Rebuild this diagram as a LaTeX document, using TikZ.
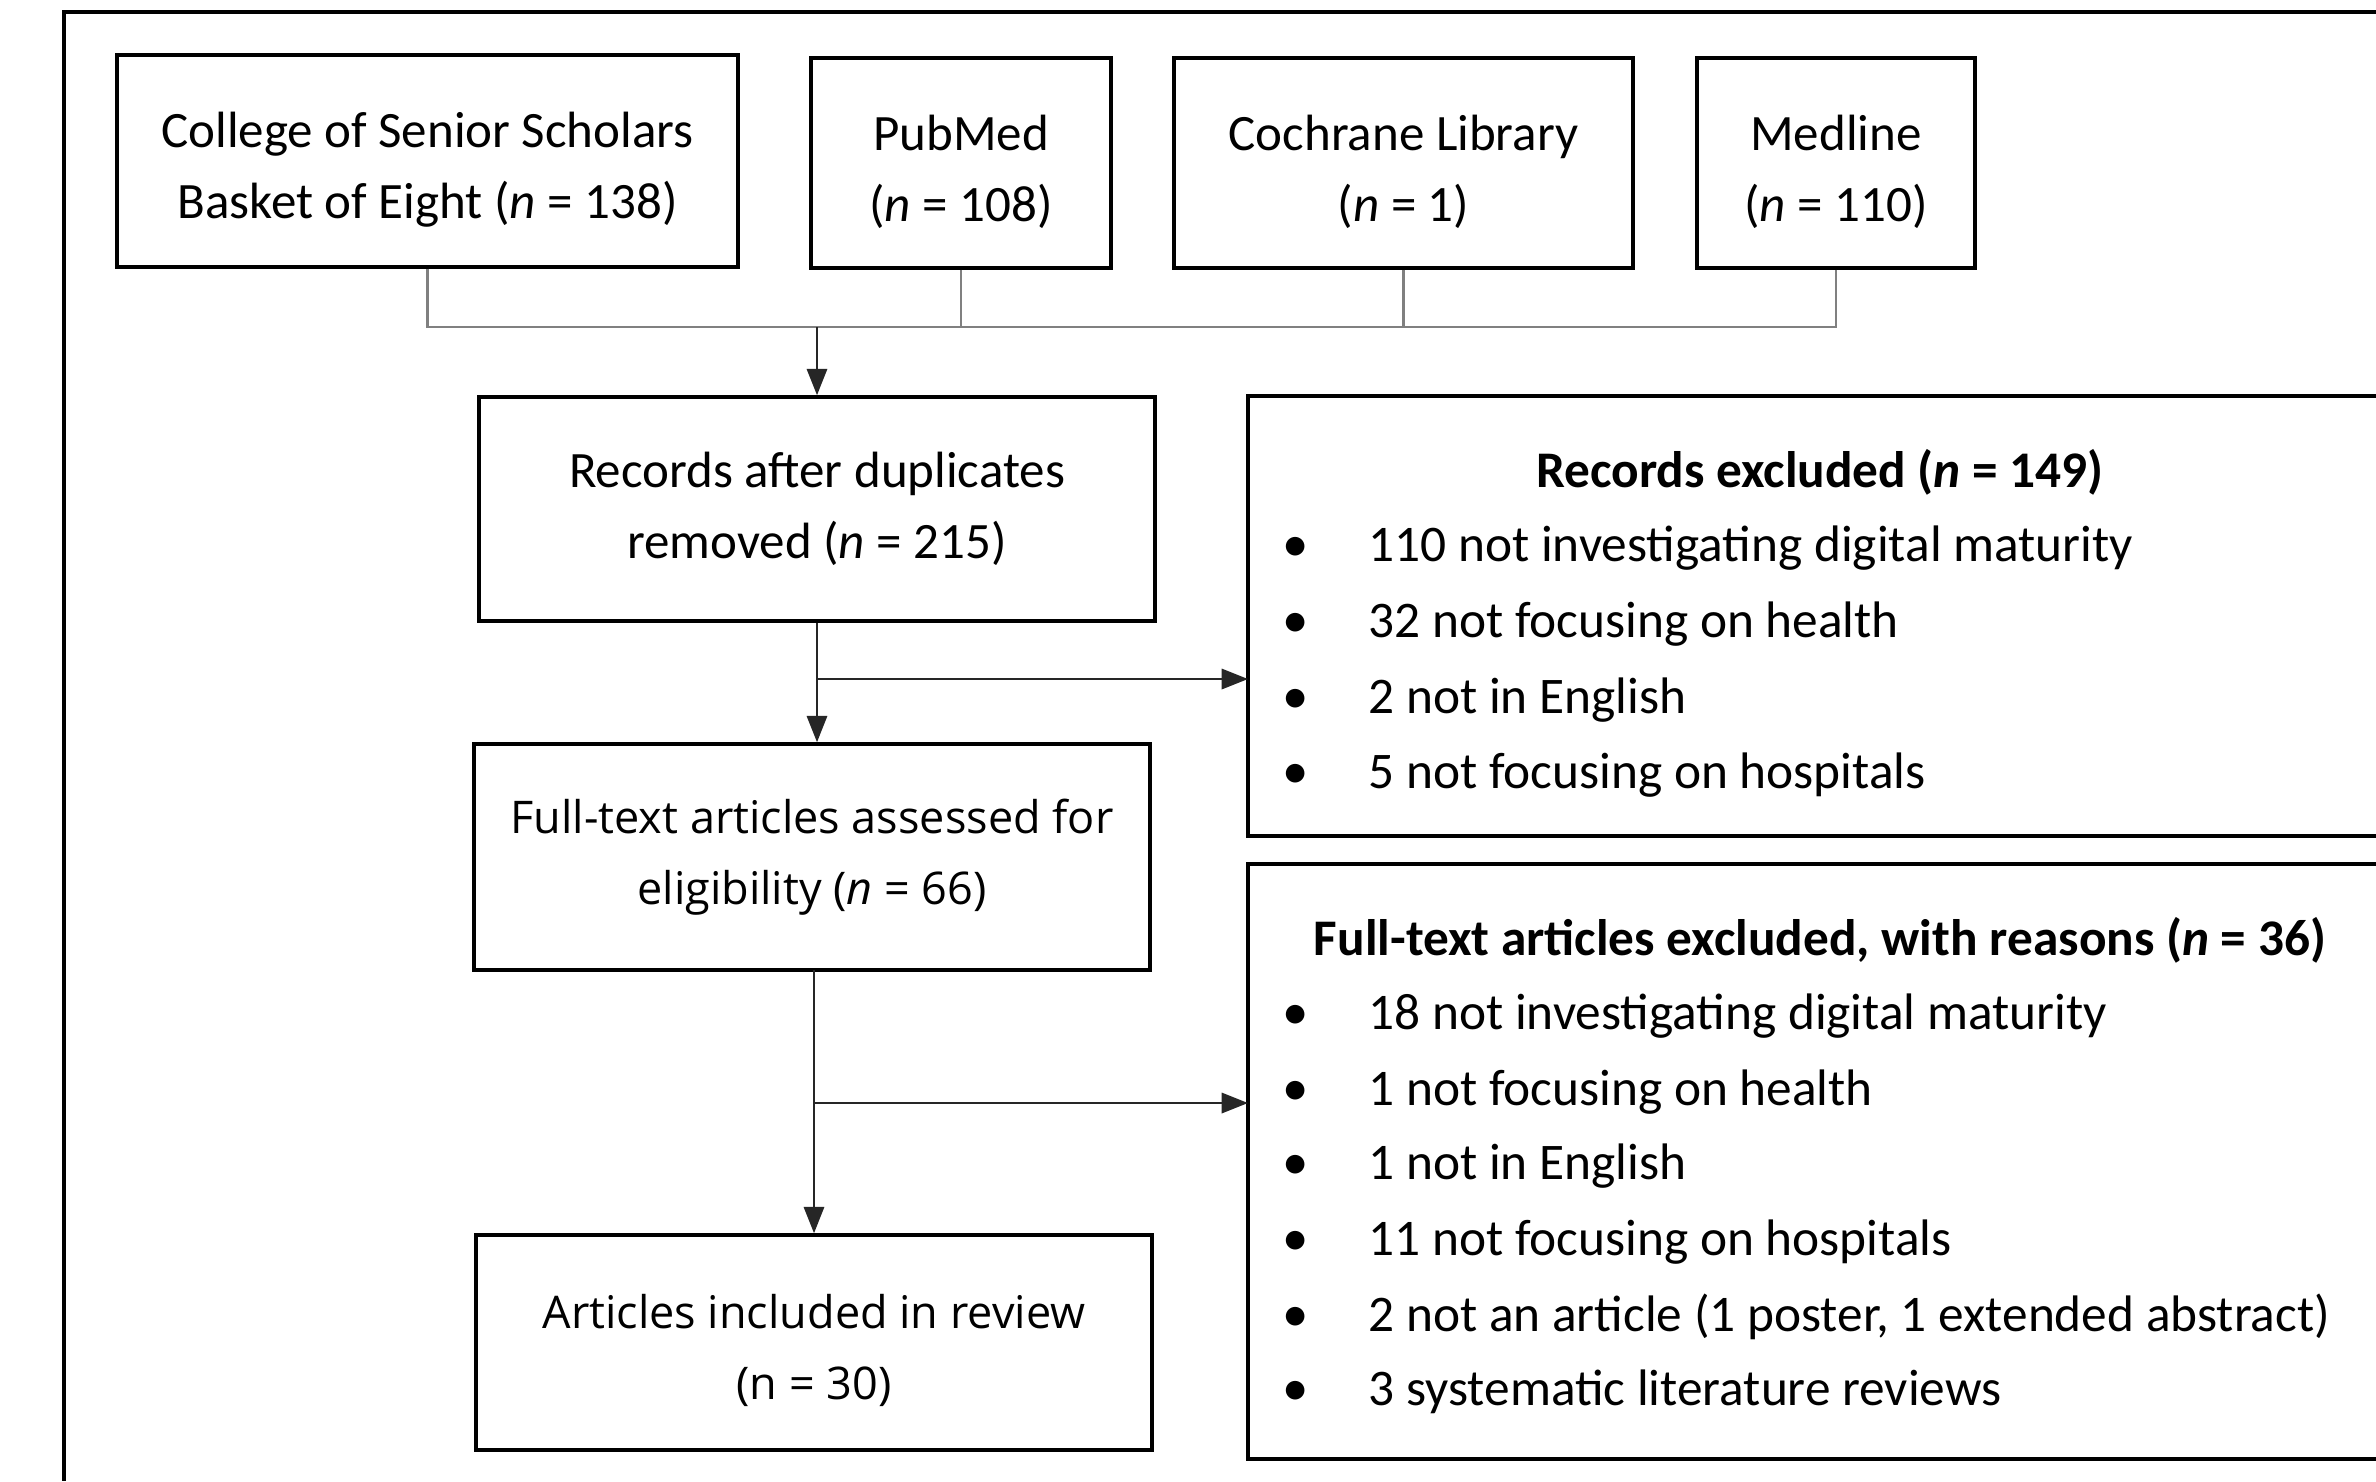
\documentclass[tikz,border=0pt]{standalone}
\usepackage{fontspec}
\setmainfont{Carlito}
\newfontfamily\segoe{Open Sans}
\usetikzlibrary{arrows.meta}
\newcommand{\lowerstrut}[1]{\rule{0pt}{#1}}
\begin{document}
\begin{tikzpicture}[x=0.01cm,y=-0.01cm,
  box/.style={draw, line width=1pt, rectangle, align=center, inner sep=0pt,
    font=\fontsize{14.5}{20.2}\selectfont},
  segbox/.style={box, font=\segoe\fontsize{12.8}{20.2}\selectfont},
  openbox/.style={rectangle, inner sep=0pt, draw=none},
  title/.style={anchor=base, inner sep=0pt, font=\bfseries\fontsize{14.6}{15}\selectfont},
  item/.style={anchor=base west, inner sep=0pt, font=\fontsize{14.6}{15}\selectfont},
  bul/.style={anchor=base, inner sep=0pt, font=\fontsize{15}{15}\selectfont},
  merge/.style={draw=black!50, line width=0.6pt},
  arr/.style={draw=black!85, line width=0.6pt, -{Triangle[length=7.5pt,width=5.8pt]}},
  frame/.style={line width=1.1pt}]
\useasboundingbox (0,0) rectangle (2376,1481);
\fill[white] (0,0) rectangle (2376,1481);
% outer frame (cropped)
\coordinate (ftl) at (64,12);
\coordinate (ftr) at (2376,12);
\coordinate (fbl) at (64,1481);
\draw[frame] (ftr) -- (ftl) -- (fbl);

% source boxes
\node[box, minimum width=6.21cm, minimum height=2.12cm] (css) at (427.5,161)
  {\lowerstrut{15pt}College of Senior Scholars\\Basket of Eight (\textit{n} = 138)};
\node[box, minimum width=3.00cm, minimum height=2.10cm] (pub) at (961,163)
  {\lowerstrut{15pt}PubMed\\(\textit{n} = 108)};
\node[box, minimum width=4.59cm, minimum height=2.10cm] (coc) at (1403.5,163)
  {\lowerstrut{15pt}Cochrane Library\\(\textit{n} = 1)};
\node[box, minimum width=2.78cm, minimum height=2.10cm] (med) at (1836,163)
  {\lowerstrut{15pt}Medline\\(\textit{n} = 110)};

% main column
\node[box, minimum width=6.76cm, minimum height=2.24cm] (rec) at (817,509)
  {Records after duplicates\\removed (\textit{n} = 215)};
\node[segbox, minimum width=6.76cm, minimum height=2.26cm] (ft) at (812,857)
  {Full-text articles assessed for\\eligibility (\textit{n} = 66)};
\node[segbox, minimum width=6.76cm, minimum height=2.15cm] (art) at (814,1342.5)
  {\lowerstrut{14pt}Articles included in review\\(n = 30)};

% exclusion boxes (cropped at right edge)
\node[openbox, minimum width=11.27cm, minimum height=4.38cm] (rex) at (1812.5,616) {};
\draw[line width=1pt] (rex.north east) -- (rex.north west) -- (rex.south west) -- (rex.south east);
\node[openbox, minimum width=11.27cm, minimum height=5.93cm] (fex) at (1812.5,1161.5) {};
\draw[line width=1pt] (fex.north east) -- (fex.north west) -- (fex.south west) -- (fex.south east);

\node[title] (rext) at (1820,487) {Records excluded (\textit{n} = 149)};
\foreach \y/\t [count=\i] in {561/110 not investigating digital maturity,
    637/32 not focusing on health, 713/2 not in English, 788/5 not focusing on hospitals}{
  \node[bul] (rb\i) at (1296,\y) {•};
  \node[item] (ri\i) at (1368,\y) {\t};
}
\node[title] (fext) at (1820,955) {Full-text articles excluded, with reasons (\textit{n} = 36)};
\foreach \y/\t [count=\i] in {1029/18 not investigating digital maturity,
    1105/1 not focusing on health, 1179/1 not in English, 1255/11 not focusing on hospitals,
    1331/{2 not an article (1 poster, 1 extended abstract)}, 1405/3 systematic literature reviews}{
  \node[bul] (fb\i) at (1296,\y) {•};
  \node[item] (fi\i) at (1368,\y) {\t};
}

% merge connectors
\coordinate (mj) at (rec.north |- 0,327);
\draw[merge] (css.south) |- (mj);
\draw[merge] (med.south) |- (mj);
\draw[merge] (pub.south) -- (pub.south |- mj);
\draw[merge] (coc.south) -- (coc.south |- mj);
\draw[arr] (mj) -- (rec.north);

% main flow
\coordinate (r0) at (rec.south);
\draw[arr] (r0) -- (r0 |- ft.north);
\coordinate (b1) at (817,679);
\draw[arr] (b1) -- (b1 -| rex.west);
\coordinate (f0) at (814,970);
\draw[arr] (f0) -- (f0 |- art.north);
\coordinate (b2) at (814,1103);
\draw[arr] (b2) -- (b2 -| fex.west);
\end{tikzpicture}
\end{document}
